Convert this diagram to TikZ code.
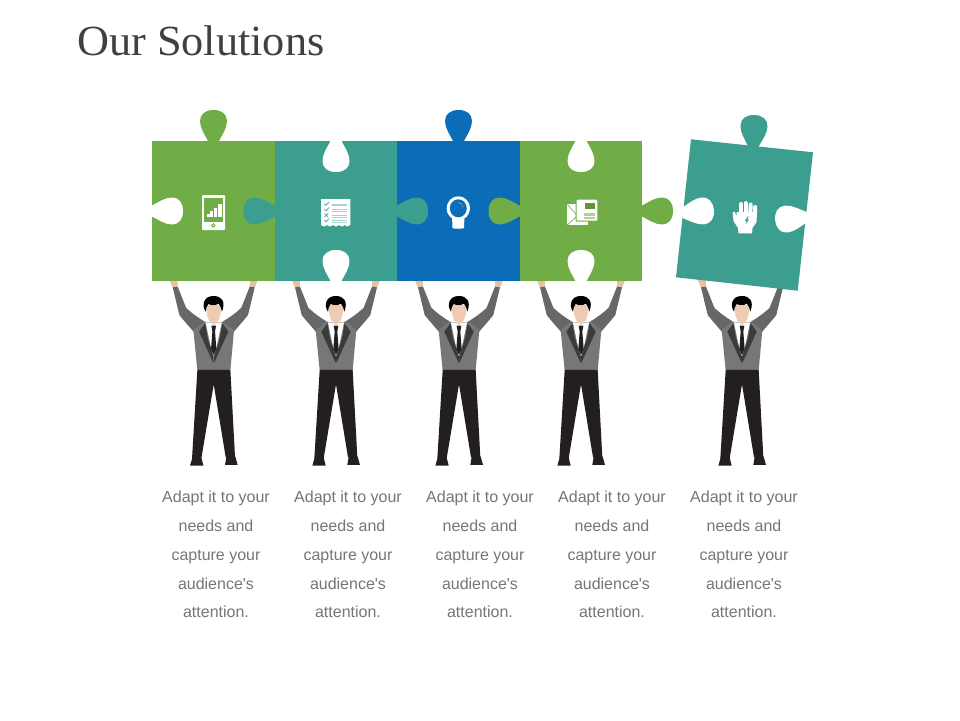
\documentclass[tikz,border=0pt]{standalone}
\usepackage{fontspec}
\setmainfont{Liberation Sans}
\newfontfamily\titlefont[FakeStretch=1.03]{Liberation Serif}
\definecolor{pgreen}{HTML}{70AD47}
\definecolor{pteal}{HTML}{3C9E8E}
\definecolor{pblue}{HTML}{0B6CB8}
\definecolor{skin}{HTML}{EFCBB3}
\definecolor{sleeve}{HTML}{676767}
\definecolor{jacket}{HTML}{777777}
\definecolor{lapel}{HTML}{3B3B3B}
\definecolor{pants}{HTML}{231F20}
\definecolor{txtgray}{HTML}{767676}
\definecolor{titlegray}{HTML}{404040}
\tikzset{
  drop/.pic={\fill[pic actions] (-5,1) .. controls (-9,-7) and (-13.5,-13) .. (-13.5,-20) .. controls (-13.5,-27) and (-8,-31) .. (0,-31) .. controls (8,-31) and (13.5,-27) .. (13.5,-20) .. controls (13.5,-13) and (9,-7) .. (5,1) -- cycle;},
  man/.pic={
    \begin{scope}[x=0.3333pt,y=-0.3333pt,shift={(-161,0)}]
      \fill[skin!85!brown] (27,12) -- (52,12) -- (53,38) -- (38,38) -- cycle;
      \fill[skin!85!brown] (295,12) -- (270,12) -- (269,38) -- (284,38) -- cycle;
      \fill[sleeve] (38,37) -- (53,35) -- (78,98) .. controls (95,115) and (115,128) .. (137,142) -- (102,172) .. controls (88,155) and (72,138) .. (58,120) -- cycle;
      \fill[sleeve] (284,37) -- (269,35) -- (244,98) .. controls (227,115) and (207,128) .. (185,142) -- (220,172) .. controls (234,155) and (250,138) .. (264,120) -- cycle;
      \fill[jacket] (100,165) -- (130,142) -- (192,142) -- (222,165) -- (211,286) -- (112,286) -- cycle;
      \fill[white] (137,143) -- (185,143) -- (161,258) -- cycle;
      \fill[lapel] (135,145) -- (117,170) -- (160,264) -- (161,245) -- (143,190) -- cycle;
      \fill[lapel] (187,145) -- (205,170) -- (162,264) -- (161,245) -- (179,190) -- cycle;
      \fill[pants] (154,152) -- (168,152) -- (165,170) -- (169,222) -- (161,240) -- (153,222) -- (157,170) -- cycle;
      \fill[skin] (139,90) -- (183,90) .. controls (184,115) and (178,140) .. (168,143) -- (161,151) -- (154,143) .. controls (144,140) and (138,115) .. (139,90) -- cycle;
      \fill[black] (137,110) .. controls (124,92) and (130,63) .. (160,63) .. controls (184,63) and (198,78) .. (186,110) .. controls (184,100) and (181,92) .. (176,86) .. controls (165,93) and (150,90) .. (145,87) .. controls (140,92) and (138,100) .. (137,110) -- cycle;
      \fill[pants] (112,285) -- (211,285) -- (225,547) -- (197,547) -- (161,328) -- (124,550) -- (96,550) -- cycle;
      \fill[pants] (90,572) -- (130,572) -- (124,548) -- (97,548) -- cycle;
      \fill[pants] (195,570) -- (233,570) -- (226,545) -- (199,545) -- cycle;
    \end{scope}
  },
  caption/.style={font=\fontsize{16}{28.8}\selectfont,text=txtgray,align=center,anchor=center,inner sep=0pt},
  thinrule/.style={line width=0.4pt}
}
\newcommand{\captext}{Adapt it to your\\needs and\\capture your\\audience\textquotesingle s\\attention.}
\begin{document}
\begin{tikzpicture}[x=1pt,y=-1pt]
\useasboundingbox[fill=white] (0,0) rectangle (960,720);
% title
\node[anchor=base west,inner sep=0pt,text=titlegray,font=\titlefont\fontsize{43}{50}\selectfont] (title) at (77,55) {Our Solutions};
% men
\pic (m1) at (213.7,275) {man};
\pic (m2) at (336,275) {man};
\pic (m3) at (459,275) {man};
\pic (m4) at (581,275) {man};
\pic (m5) at (742,275) {man};
% pieces
\fill[pgreen] (152,141) rectangle (274.5,281);
\fill[pteal] (274.5,141) rectangle (397,281);
\fill[pblue] (397,141) rectangle (519.5,281);
\fill[pgreen] (519.5,141) rectangle (642,281);
\fill[pteal] (691,139.3) -- (813,152.3) -- (797.7,290.7) -- (676,277.3) -- cycle;
% tabs and notches
\pic[fill=pgreen] at (213.5,141) {drop};
\pic[fill=white,rotate=-90] at (152,211) {drop};
\pic[fill=pteal,rotate=90] at (274.5,211) {drop};
\pic[fill=white,rotate=180] at (336,141) {drop};
\pic[fill=white] at (336,281) {drop};
\pic[fill=pteal,rotate=-90] at (397,211) {drop};
\pic[fill=pblue] at (458.5,141) {drop};
\pic[fill=pgreen,rotate=90] at (519.5,211) {drop};
\pic[fill=white,rotate=180] at (581,141) {drop};
\pic[fill=white] at (581,281) {drop};
\pic[fill=pgreen,rotate=-90] at (642,211) {drop};
\pic[fill=pteal,rotate=-2] at (753.3,146) {drop};
\pic[fill=white,rotate=-84] at (683,213) {drop};
\pic[fill=white,rotate=96] at (806,217) {drop};
% phone icon
\fill[white,rounded corners=1pt] (202,195) rectangle (225,230);
\fill[pgreen] (204.2,197.7) rectangle (223,221.7);
\fill[white] (206.5,213.5) rectangle (209.5,217);
\fill[white] (210.4,211) rectangle (213.4,217);
\fill[white] (214.3,208) rectangle (217.3,217);
\fill[white] (218.2,204) rectangle (221.5,217);
\draw[pgreen,line width=0.9pt] (213.3,225.5) circle (1.7);
% checklist icon
\fill[white] (321,199) -- (350.3,199) -- (350.3,225) -- (347,226.5) -- (345,225) -- (342,226.5) -- (339,225) -- (336,226.5) -- (333,225) -- (330,226.5) -- (327,225) -- (324,226.5) -- (321,225) -- cycle;
\draw[pteal,line width=0.7pt] (324,203.5) -- (325.8,205.3) -- (329,202);
\draw[pteal,line width=0.7pt] (324,209) -- (325.8,210.8) -- (329,207.5);
\draw[pteal,line width=0.7pt] (324.5,213.5) -- (328,217) (328,213.5) -- (324.5,217);
\draw[pteal,line width=0.7pt] (324,220) -- (325.8,221.8) -- (329,218.5);
\foreach \yy in {203.7,205.6,209.3,211,215,216.7,220.3,222}{\draw[pteal!45,thinrule] (331.7,\yy) -- (346.7,\yy);}
% bulb icon
\fill[white] (452,216) -- (452.5,228) .. controls (453,229) and (463.5,229) .. (464,228) -- (464.5,216) -- cycle;
\fill[white] (458.3,208.3) ellipse (11.7 and 12);
\fill[pblue] (458.3,208.3) ellipse (8.5 and 9);
\draw[white!60!pblue,line width=0.4pt] (458,202.5) .. controls (461,202.5) and (463,204.5) .. (463,207.5);
% news icon
\fill[white] (567.3,204.3) rectangle (588.3,225);
\draw[pgreen,line width=0.6pt] (567.3,204.5) -- (579,217.5) (567.3,225) -- (577,216);
\fill[pgreen,rounded corners=1pt] (575.7,198.7) rectangle (598.3,221.7);
\fill[white,rounded corners=1pt] (576.7,199.7) rectangle (597.3,220.7);
\fill[pgreen!85!black] (585.3,202.7) rectangle (595,208.7);
\fill[pgreen!55] (584,213.3) rectangle (595,219);
\draw[white,line width=0.4pt] (584,216.1) -- (595,216.1);
% hand icon
\fill[white] (736.5,212) -- (757,212) -- (756.5,222) -- (752.5,228) -- (752,233.3) -- (738.5,233.3) -- (738,228) -- (733.5,221) -- (732.7,212.5) -- (734.5,211.5) -- (736.5,216) -- cycle;
\foreach \xa/\xb/\yt in {741/741/204,745.6/745.6/203,750.3/750.6/204.5,754.8/755.2/207}{\draw[white,line width=4pt,line cap=round] (\xa,216) -- (\xb,\yt);}
\fill[pteal] (747.5,216.5) -- (744.8,221) -- (746.6,221) -- (745.6,224) -- (749,219.7) -- (747.2,219.7) -- (748.8,216.5) -- cycle;
% captions
\node[caption] (c1) at (216,554.5) {\captext};
\node[caption] (c2) at (348,554.5) {\captext};
\node[caption] (c3) at (480,554.5) {\captext};
\node[caption] (c4) at (612,554.5) {\captext};
\node[caption] (c5) at (744,554.5) {\captext};
\end{tikzpicture}
\end{document}
